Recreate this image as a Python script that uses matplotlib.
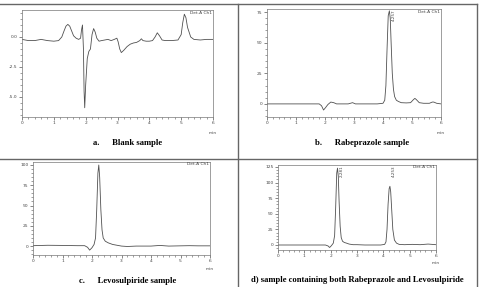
import matplotlib
matplotlib.use("Agg")
import matplotlib.pyplot as plt
from matplotlib.lines import Line2D
from matplotlib.ticker import MultipleLocator

# a. blank sample (time in min, detector response)
t_blank = [0, 0.2, 0.4, 0.6, 0.8, 1.0, 1.15, 1.25, 1.32, 1.38, 1.44, 1.5, 1.56, 1.62, 1.7,
           1.78, 1.84, 1.87, 1.9, 1.93, 1.95, 1.97, 2.0, 2.05, 2.1, 2.15, 2.2, 2.25, 2.3, 2.35,
           2.42, 2.5, 2.6, 2.7, 2.8, 2.9, 2.98, 3.02, 3.07, 3.12, 3.2, 3.3, 3.4, 3.5, 3.6,
           3.7, 3.75, 3.8, 3.9, 4.0, 4.1, 4.18, 4.25, 4.32, 4.4, 4.5, 4.7, 4.9, 5.0, 5.05,
           5.1, 5.15, 5.2, 5.3, 5.4, 5.6, 5.8, 6.0]
y_blank = [-0.2, -0.3, -0.3, -0.2, -0.3, -0.35, -0.3, 0.0, 0.5, 0.9, 1.05, 0.9, 0.5, 0.1, -0.1,
           -0.2, -0.1, 0.6, 1.0, -1.0, -4.5, -5.9, -4.0, -1.8, -1.2, -1.0, 0.2, 0.7, 0.4, -0.1,
           -0.35, -0.3, -0.25, -0.2, -0.3, -0.2, -0.1, -0.4, -1.0, -1.3, -1.1, -0.8, -0.6, -0.5, -0.45,
           -0.3, -0.15, -0.3, -0.35, -0.35, -0.3, 0.0, 0.35, 0.1, -0.25, -0.3, -0.3, -0.25, 0.2, 1.2,
           1.9, 1.6, 0.8, 0.0, -0.2, -0.25, -0.2, -0.2]

# b. rabeprazole sample
t_rabe = [0, 0.5, 1.0, 1.5, 1.8, 1.88, 1.95, 2.02, 2.1, 2.2, 2.3, 2.4, 2.6, 2.8, 2.95, 3.05,
          3.2, 3.5, 3.8, 4.0, 4.06, 4.1, 4.14, 4.18, 4.22, 4.25, 4.28, 4.32, 4.36, 4.4, 4.46,
          4.53, 4.63, 4.8, 4.95, 5.05, 5.1, 5.15, 5.25, 5.4, 5.6, 5.7, 5.75, 5.85, 6.0]
y_rabe = [0, 0, 0, 0, 0, -1.5, -5, -3, -0.5, 1.5, 1.0, 0, 0, 0, 1.0, 0,
          0, 0, 0, 0.5, 3, 15, 45, 72, 76, 70, 50, 25, 12, 6, 3,
          2, 1, 0.8, 1.0, 3.5, 4.5, 3.5, 1, 0.5, 0.5, 1.5, 1.5, 0.5, 0]

# c. levosulpiride sample
t_levo = [0, 0.5, 1.0, 1.5, 1.75, 1.85, 1.92, 2.0, 2.07, 2.12, 2.16, 2.2, 2.23, 2.26, 2.3,
          2.34, 2.38, 2.45, 2.55, 2.7, 2.85, 3.0, 3.2, 3.5, 4.0, 4.3, 4.6, 5.0, 5.3, 5.6, 6.0]
y_levo = [0.5, 1, 0.8, 0.5, 0.5, -1.5, -5, -2, 2, 10, 45, 90, 100, 85, 45,
          20, 10, 6, 4, 2, 1, 0, -0.5, 0, 0, 0.8, 0, 0.3, 0.5, 0.3, 0.3]

# d. mixture of both
t_mix = [0, 0.5, 1.0, 1.5, 1.8, 1.9, 1.96, 2.03, 2.1, 2.15, 2.19, 2.23, 2.26, 2.29, 2.32,
         2.36, 2.4, 2.45, 2.52, 2.6, 2.7, 2.85, 3.0, 3.3, 3.6, 3.9, 4.05, 4.1, 4.14, 4.18,
         4.22, 4.25, 4.28, 4.32, 4.36, 4.42, 4.5, 4.6, 4.8, 5.1, 5.4, 5.7, 6.0]
y_mix = [0, 0, 0, 0, 0, -1.5, -4, -1, 3, 15, 60, 115, 123, 110, 70,
         30, 12, 6, 4, 3, 1.5, 0.5, 0.5, 0, 0, 0, 1, 5, 25, 65,
         90, 94, 85, 55, 25, 8, 3, 1, 0.5, 1, 0.5, 1.5, 0.5]

captions = ["a.      Blank sample", "b.      Rabeprazole sample",
            "c.      Levosulpiride sample",
            "d) sample containing both Rabeprazole and Levosulpiride"]

W, H = 479, 287
fig = plt.figure(figsize=(W / 100, H / 100), dpi=100)
fig.patch.set_facecolor("white")

def px_axes(l, t, r, b):
    return fig.add_axes([l / W, 1 - b / H, (r - l) / W, (b - t) / H])

grey = "#555555"
tick_kw = dict(labelsize=3.2, colors=grey, labelcolor="#444444", width=0.5, pad=1)

def chrom(ax, t, y, ylim, yticks, ylabels, ymin_step, peaks=()):
    ax.plot(t, y, color="#505050", lw=0.6)
    ax.set_xlim(0, 6)
    ax.set_ylim(*ylim)
    ax.set_xticks(range(7))
    ax.xaxis.set_minor_locator(MultipleLocator(0.2))
    ax.yaxis.set_minor_locator(MultipleLocator(ymin_step))
    ax.set_yticks(yticks)
    ax.set_yticklabels(ylabels)
    ax.tick_params(which="major", length=2.2, direction="out", **tick_kw)
    ax.tick_params(which="minor", length=1.2, width=0.4, colors=grey)
    for s in ax.spines.values():
        s.set_linewidth(0.5)
        s.set_color("#777777")
    ax.text(0.995, 0.995, "Det.A Ch1", transform=ax.transAxes, ha="right", va="top",
            fontsize=3.2, color="#444444")
    ax.text(1.0, -0.13, "min", transform=ax.transAxes, ha="center", va="top",
            fontsize=3.2, color="#444444")
    for pt, py, lab in peaks:
        ax.text(pt + 0.08, py, lab, rotation=90, ha="left", va="top",
                fontsize=3.0, color="#444444")

ax_a = px_axes(22, 10, 213, 117)
chrom(ax_a, t_blank, y_blank, (-6.67, 2.25), [-5.0, -2.5, 0.0], ["-5.0", "-2.5", "0.0"], 0.5)

ax_b = px_axes(267, 9, 441, 117)
chrom(ax_b, t_rabe, y_rabe, (-10.7, 77.5), [0, 25, 50, 75], ["0", "25", "50", "75"], 5,
      peaks=[(4.22, 77, "4.257")])

ax_c = px_axes(33, 162, 210, 255)
chrom(ax_c, t_levo, y_levo, (-11, 103.7), [0, 25, 50, 75, 100],
      ["0", "25", "50", "75", "100"], 5)

ax_d = px_axes(278, 165, 436, 250)
chrom(ax_d, t_mix, y_mix, (-8, 128), [0, 25, 50, 75, 100, 125],
      ["0", "25", "50", "75", "100", "125"], 5,
      peaks=[(2.26, 127, "2.281"), (4.25, 127, "4.253")])

# captions
cap_font = dict(family="Liberation Serif", weight="bold", fontsize=6.2, color="black",
                va="center", ha="center")
fig.text(128 / W, 1 - 143 / H, captions[0], **cap_font)
fig.text(362 / W, 1 - 143 / H, captions[1], **cap_font)
fig.text(128 / W, 1 - 281 / H, captions[2], **cap_font)
fig.text(357 / W, 1 - 280 / H, captions[3], **cap_font)

# table borders
line_kw = dict(color="#666666", lw=1.0, transform=fig.transFigure)
fig.add_artist(Line2D([0, 477 / W], [1 - 4 / H, 1 - 4 / H], **line_kw))
fig.add_artist(Line2D([0, 477 / W], [1 - 159 / H, 1 - 159 / H], **line_kw))
fig.add_artist(Line2D([238 / W, 238 / W], [0, 1 - 4 / H], **line_kw))
fig.add_artist(Line2D([477 / W, 477 / W], [0, 1 - 4 / H], **line_kw))

fig.savefig("out.png", dpi=100)
